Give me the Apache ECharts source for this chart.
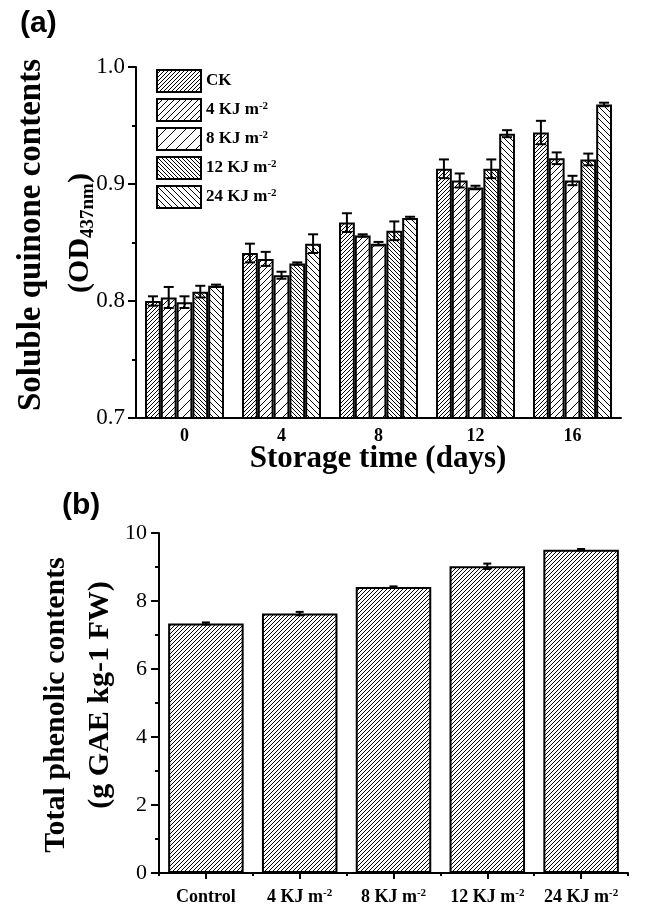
<!DOCTYPE html>
<html>
<head>
<meta charset="utf-8">
<script src="https://cdn.jsdelivr.net/npm/echarts@6/dist/echarts.min.js"></script>
<style>html,body{margin:0;padding:0;background:#fff}#c{width:647px;height:907px}</style>
</head>
<body>
<div id="c"></div>
<script>
// ---------- data ----------
const daysA = ['0', '4', '8', '12', '16'];
const seriesNamesA = ['CK', '4 KJ m-2', '8 KJ m-2', '12 KJ m-2', '24 KJ m-2'];
const ckA   = [0.800, 0.841, 0.867, 0.913, 0.944];
const kj4A  = [0.803, 0.836, 0.856, 0.903, 0.922];
const kj8A  = [0.799, 0.822, 0.849, 0.897, 0.903];
const kj12A = [0.808, 0.832, 0.860, 0.913, 0.921];
const kj24A = [0.813, 0.849, 0.871, 0.943, 0.968];
const ckErrA   = [0.004, 0.008, 0.008, 0.008, 0.010];
const kj4ErrA  = [0.009, 0.006, 0.001, 0.006, 0.005];
const kj8ErrA  = [0.005, 0.003, 0.0015, 0.0015, 0.004];
const kj12ErrA = [0.005, 0.001, 0.008, 0.008, 0.005];
const kj24ErrA = [0.001, 0.008, 0.001, 0.003, 0.0015];
const yTicksA = [0.7, 0.8, 0.9, 1.0];

const treatmentsB = ['Control', '4 KJ m-2', '8 KJ m-2', '12 KJ m-2', '24 KJ m-2'];
const phenolB = [7.34, 7.63, 8.41, 9.02, 9.51];
const phenolErrB = [0.03, 0.05, 0.02, 0.08, 0.02];
const yTicksB = [0, 2, 4, 6, 8, 10];

// ---------- styling helpers ----------
const SERIF = '"Liberation Serif", "Times New Roman", serif';
const SANS = '"Liberation Sans", Arial, sans-serif';
function hatch(s, dir) {
  const c = document.createElement('canvas');
  c.width = s; c.height = s;
  const g = c.getContext('2d');
  g.fillStyle = '#fff'; g.fillRect(0, 0, s, s);
  g.strokeStyle = '#000'; g.lineWidth = 1;
  g.beginPath();
  for (let k = -1; k <= 1; k++) {
    if (dir === '/') { g.moveTo(k * s, s); g.lineTo(k * s + s, 0); }
    else { g.moveTo(k * s, 0); g.lineTo(k * s + s, s); }
  }
  g.stroke();
  return { image: c, repeat: 'repeat' };
}
const patternsA = [hatch(4, '/'), hatch(6, '/'), hatch(10, '/'), hatch(4, '\\'), hatch(6, '\\')];
const patternB = hatch(4, '/');
const supFmt = s => s.replace(/m-2$/, 'm{sup|-2}');

const valuesA = [ckA, kj4A, kj8A, kj12A, kj24A];
const errsA = [ckErrA, kj4ErrA, kj8ErrA, kj12ErrA, kj24ErrA];
const GAP_A = 0.186, GAP_B = 0.195;

const errDataA = [];
valuesA.forEach((arr, s) => arr.forEach((v, i) => errDataA.push([i, s, v, errsA[s][i]])));
const errDataB = phenolB.map((v, i) => [i, 0, v, phenolErrB[i]]);

function errRenderer(n, gap, cap) {
  return function (params, api) {
    const cat = api.value(0), s = api.value(1), v = api.value(2), e = api.value(3);
    const c = api.coord([cat, v]);
    const band = api.size([1, 0])[0];
    const group = band * (1 - gap);
    const bw = group / n;
    const x = c[0] - group / 2 + bw * (s + 0.5);
    const yt = api.coord([cat, v + e])[1];
    const yb = api.coord([cat, v - e])[1];
    const st = { stroke: '#000', lineWidth: 2 };
    return {
      type: 'group',
      children: [
        { type: 'line', shape: { x1: x, y1: yt, x2: x, y2: yb }, style: st },
        { type: 'line', shape: { x1: x - cap / 2, y1: yt, x2: x + cap / 2, y2: yt }, style: st },
        { type: 'line', shape: { x1: x - cap / 2, y1: yb, x2: x + cap / 2, y2: yb }, style: st }
      ]
    };
  };
}

const axisLine = { show: true, lineStyle: { color: '#000', width: 2 } };

const chart = echarts.init(document.getElementById('c'), null, { renderer: 'canvas' });
chart.setOption({
  animation: false,
  backgroundColor: '#fff',
  grid: [
    { left: 136, top: 67, width: 485, height: 351 },
    { left: 159, top: 533, width: 469, height: 340 }
  ],
  legend: {
    data: seriesNamesA,
    orient: 'vertical',
    left: 156, top: 69, padding: 0,
    itemWidth: 44, itemHeight: 22, itemGap: 5,
    icon: 'rect',
    itemStyle: { borderColor: '#000', borderWidth: 2 },
    formatter: supFmt,
    textStyle: {
      fontFamily: SERIF, fontWeight: 'bold', fontSize: 17, color: '#000',
      rich: { sup: { fontFamily: SERIF, fontWeight: 'bold', fontSize: 11, color: '#000', verticalAlign: 'top', padding: [0, 0, 8, 0] } }
    }
  },
  xAxis: [
    {
      gridIndex: 0, type: 'category', data: daysA, position: 'bottom',
      axisLine: axisLine, axisTick: { show: false },
      axisLabel: { margin: 9, fontFamily: SERIF, fontWeight: 'bold', fontSize: 18, color: '#000' }
    },
    {
      gridIndex: 1, type: 'category', data: treatmentsB, position: 'bottom',
      axisLine: axisLine,
      axisTick: { show: true, alignWithLabel: true, length: 6, lineStyle: { color: '#000', width: 2 } },
      axisLabel: {
        margin: 15, interval: 0, formatter: supFmt,
        fontFamily: SERIF, fontWeight: 'bold', fontSize: 18, color: '#000',
        rich: { sup: { fontFamily: SERIF, fontWeight: 'bold', fontSize: 11, color: '#000', verticalAlign: 'top', padding: [0, 0, 8, 0] } }
      }
    },
    {
      gridIndex: 1, type: 'category', data: treatmentsB, position: 'bottom',
      axisLine: { show: false },
      axisTick: { show: true, alignWithLabel: false, length: 3, lineStyle: { color: '#000', width: 2 } },
      axisLabel: { show: false }
    }
  ],
  yAxis: [
    {
      gridIndex: 0, type: 'value', min: yTicksA[0], max: yTicksA[yTicksA.length - 1], interval: 0.1,
      axisLine: axisLine,
      axisTick: { show: true, length: 8, lineStyle: { color: '#000', width: 2 } },
      minorTick: { show: true, splitNumber: 2, length: 4, lineStyle: { color: '#000', width: 2 } },
      splitLine: { show: false },
      axisLabel: { margin: 11, fontFamily: SERIF, fontSize: 23, color: '#000', formatter: v => v.toFixed(1) }
    },
    {
      gridIndex: 1, type: 'value', min: yTicksB[0], max: yTicksB[yTicksB.length - 1], interval: 2,
      axisLine: axisLine,
      axisTick: { show: true, length: 8, lineStyle: { color: '#000', width: 2 } },
      minorTick: { show: true, splitNumber: 2, length: 4, lineStyle: { color: '#000', width: 2 } },
      splitLine: { show: false },
      axisLabel: { margin: 12, fontFamily: SERIF, fontSize: 22, color: '#000' }
    }
  ],
  series: [
    ...seriesNamesA.map((name, s) => ({
      name: name, type: 'bar', xAxisIndex: 0, yAxisIndex: 0,
      data: valuesA[s],
      barGap: '0%', barCategoryGap: (GAP_A * 100) + '%',
      itemStyle: { color: patternsA[s], borderColor: '#000', borderWidth: 2 }
    })),
    {
      type: 'custom', xAxisIndex: 0, yAxisIndex: 0, z: 10,
      renderItem: errRenderer(5, GAP_A, 10),
      data: errDataA, encode: { x: 0, y: 2 }
    },
    {
      name: 'phenolic', type: 'bar', xAxisIndex: 1, yAxisIndex: 1,
      data: phenolB, barCategoryGap: (GAP_B * 100) + '%',
      itemStyle: { color: patternB, borderColor: '#000', borderWidth: 2 }
    },
    {
      type: 'custom', xAxisIndex: 1, yAxisIndex: 1, z: 10,
      renderItem: errRenderer(1, GAP_B, 8),
      data: errDataB, encode: { x: 0, y: 2 }
    }
  ],
  graphic: [
    { type: 'text', left: 20, top: 9, style: { text: '(a)', fontFamily: SANS, fontWeight: 'bold', fontSize: 30, fill: '#000' } },
    { type: 'text', left: 62, top: 491, style: { text: '(b)', fontFamily: SANS, fontWeight: 'bold', fontSize: 30, fill: '#000' } },
    { type: 'text', x: 31, y: 235, rotation: Math.PI / 2,
      style: { text: 'Soluble quinone contents', fontFamily: SERIF, fontWeight: 'bold', fontSize: 33, fill: '#000', align: 'center', verticalAlign: 'middle' } },
    { type: 'text', x: 80, y: 233, rotation: Math.PI / 2,
      style: { text: '(OD{sub|437nm})', fontFamily: SERIF, fontWeight: 'bold', fontSize: 30, fill: '#000', align: 'center', verticalAlign: 'middle',
        rich: { sub: { fontFamily: SERIF, fontWeight: 'bold', fontSize: 19, fill: '#000', verticalAlign: 'bottom', padding: [16, 0, 0, 0] } } } },
    { type: 'text', x: 56, y: 705, rotation: Math.PI / 2,
      style: { text: 'Total phenolic contents', fontFamily: SERIF, fontWeight: 'bold', fontSize: 30, fill: '#000', align: 'center', verticalAlign: 'middle' } },
    { type: 'text', x: 100, y: 695, rotation: Math.PI / 2,
      style: { text: '(g GAE kg-1 FW)', fontFamily: SERIF, fontWeight: 'bold', fontSize: 30, fill: '#000', align: 'center', verticalAlign: 'middle' } },
    { type: 'text', x: 378, y: 459,
      style: { text: 'Storage time (days)', fontFamily: SERIF, fontWeight: 'bold', fontSize: 31, fill: '#000', align: 'center', verticalAlign: 'middle' } }
  ]
});
</script>
</body>
</html>
